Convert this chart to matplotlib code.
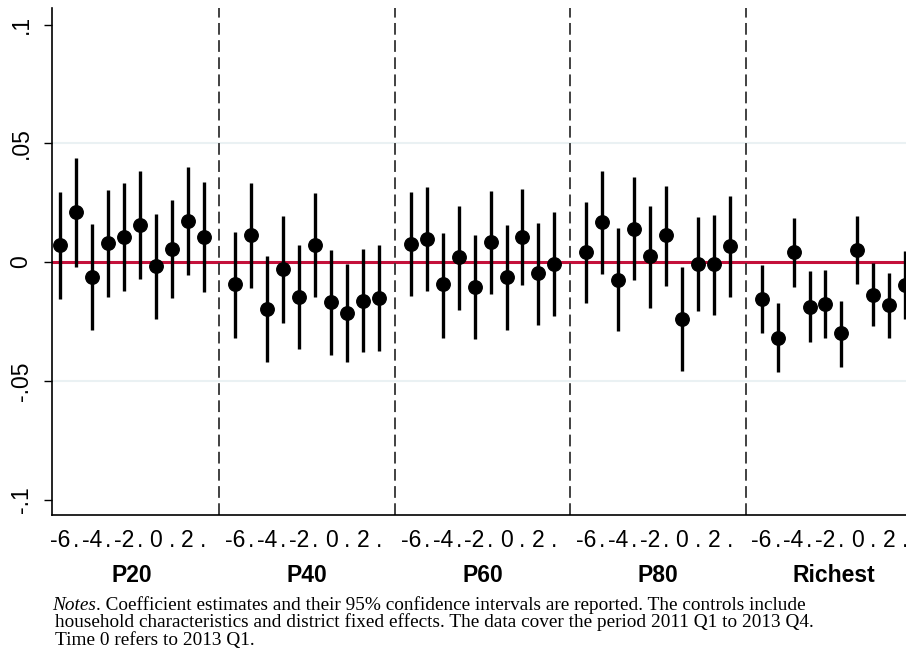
import matplotlib
matplotlib.use('Agg')
import matplotlib.pyplot as plt
import matplotlib.transforms as mtransforms
import numpy as np

# event-time coefficients by income group, times -6..3
groups = ['P20', 'P40', 'P60', 'P80', 'Richest']
tick_labels = ['-6', '.', '-4', '.', '-2', '.', '0', '.', '2', '.']

coef_p20 = [0.0071, 0.0210, -0.0061, 0.0080, 0.0107, 0.0158, -0.0017, 0.0056, 0.0175, 0.0107]
lo_p20 = [-0.0154, -0.0019, -0.0288, -0.0148, -0.0120, -0.0070, -0.0238, -0.0151, -0.0053, -0.0126]
hi_p20 = [0.0296, 0.0438, 0.0161, 0.0305, 0.0331, 0.0385, 0.0203, 0.0261, 0.0401, 0.0338]

coef_p40 = [-0.0092, 0.0113, -0.0196, -0.0031, -0.0146, 0.0073, -0.0168, -0.0216, -0.0164, -0.0153]
lo_p40 = [-0.0318, -0.0111, -0.0419, -0.0256, -0.0368, -0.0148, -0.0391, -0.0422, -0.0380, -0.0374]
hi_p40 = [0.0127, 0.0335, 0.0025, 0.0193, 0.0073, 0.0293, 0.0053, -0.0010, 0.0057, 0.0070]

coef_p60 = [0.0077, 0.0098, -0.0094, 0.0021, -0.0106, 0.0083, -0.0063, 0.0105, -0.0048, -0.0006]
lo_p60 = [-0.0141, -0.0123, -0.0318, -0.0203, -0.0324, -0.0136, -0.0286, -0.0097, -0.0263, -0.0225]
hi_p60 = [0.0296, 0.0315, 0.0123, 0.0238, 0.0112, 0.0298, 0.0155, 0.0308, 0.0165, 0.0210]

coef_p80 = [0.0043, 0.0169, -0.0074, 0.0141, 0.0024, 0.0112, -0.0240, -0.0007, -0.0008, 0.0066]
lo_p80 = [-0.0171, -0.0049, -0.0291, -0.0076, -0.0193, -0.0099, -0.0457, -0.0206, -0.0221, -0.0148]
hi_p80 = [0.0255, 0.0385, 0.0143, 0.0360, 0.0238, 0.0321, -0.0022, 0.0188, 0.0200, 0.0280]

coef_rich = [-0.0157, -0.0318, 0.0041, -0.0188, -0.0175, -0.0300, 0.0052, -0.0137, -0.0182, -0.0095]
lo_rich = [-0.0298, -0.0464, -0.0106, -0.0336, -0.0321, -0.0441, -0.0091, -0.0269, -0.0321, -0.0238]
hi_rich = [-0.0014, -0.0171, 0.0185, -0.0038, -0.0035, -0.0162, 0.0195, -0.0003, -0.0045, 0.0048]

coefs = [coef_p20, coef_p40, coef_p60, coef_p80, coef_rich]
lows = [lo_p20, lo_p40, lo_p60, lo_p80, lo_rich]
highs = [hi_p20, hi_p40, hi_p60, hi_p80, hi_rich]

n = len(tick_labels)
step = n + 1

fig = plt.figure(figsize=(9.06, 6.54), dpi=100)
ax = fig.add_axes([52/906, 1 - 515/654, 1 - 52/906, (515 - 8)/654])

# grid lines at +-.05 and the zero line
for g in [-0.05, 0.05]:
    ax.axhline(g, color='#eaf1f3', lw=1.5, zorder=0)
ax.axhline(0, color='#c4103a', lw=2.2, zorder=1)

xt = []
for k in range(len(groups)):
    x = np.arange(n) + k*step
    xt.extend(x)
    c = np.array(coefs[k])
    ax.vlines(x, lows[k], highs[k], color='black', lw=2.4, zorder=2)
    ax.plot(x, c, 'o', color='black', ms=9.7, zorder=3)
    if k < len(groups) - 1:
        ax.axvline(k*step + n, color='#333333', lw=1.3, ls=(0, (6.5, 3)), zorder=1)

ax.set_xlim(-0.5, 53.05)
ax.set_ylim(-0.1065, 0.107)
ax.set_xticks(xt)
ax.set_xticklabels(tick_labels*len(groups), fontsize=16.5, family='Liberation Sans')
ax.tick_params(axis='x', length=0, pad=10)
ax.set_yticks([-0.1, -0.05, 0, 0.05, 0.1])
ax.set_yticklabels(['-.1', '-.05', '0', '.05', '.1'], fontsize=16.5, family='Liberation Sans',
                   rotation=90, va='center')
ax.tick_params(axis='y', length=6, width=1, pad=8)
ax.spines['top'].set_visible(False)
ax.spines['right'].set_visible(False)
ax.spines['left'].set_linewidth(1.2)
ax.spines['bottom'].set_linewidth(1.2)

trans = mtransforms.blended_transform_factory(ax.transData, fig.transFigure)
for k, g in enumerate(groups):
    ax.text(k*step + (n - 1)/2, 1 - 576/654, g, transform=trans, ha='center', va='center',
            fontsize=16.5, fontweight='bold', family='Liberation Sans')

# notes under the chart
notes_font = dict(family='Liberation Serif', fontsize=13.9)
t = fig.text(52/906, 1 - 605/654, 'Notes', style='italic', va='center', **notes_font)
ax.annotate('. Coefficient estimates and their 95% confidence intervals are reported. The controls include',
            xy=(1, 0.5), xycoords=t, va='center', annotation_clip=False, **notes_font)
fig.text(55/906, 1 - 622/654,
         'household characteristics and district fixed effects. The data cover the period 2011 Q1 to 2013 Q4.',
         va='center', **notes_font)
fig.text(55/906, 1 - 640/654, 'Time 0 refers to 2013 Q1.', va='center', **notes_font)

fig.savefig('out.png', dpi=100)
